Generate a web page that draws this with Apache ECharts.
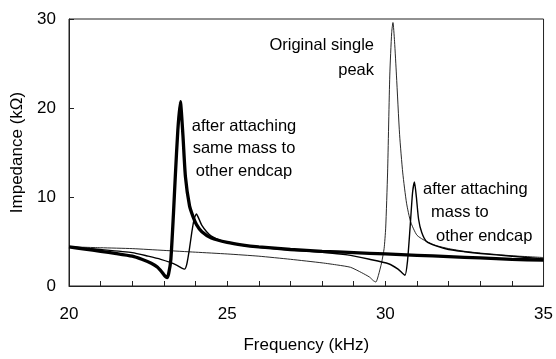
<!DOCTYPE html>
<html>
<head>
<meta charset="utf-8">
<script src="https://cdn.jsdelivr.net/npm/echarts@6/dist/echarts.min.js"></script>
<style>
  html, body { margin: 0; padding: 0; background: #fff; }
  #chart { width: 556px; height: 359px; }
</style>
</head>
<body>
<div id="chart"></div>
<script>
// Impedance spectra of the resonator (frequency in kHz, impedance in kΩ)

// Original single resonance peak
const origFreq = [20, 21, 22, 23, 24, 25, 26, 27, 28, 28.5, 28.9, 29.25, 29.5, 29.62, 29.7, 29.78, 29.88, 29.96, 30.01, 30.07, 30.14, 30.2, 30.24, 30.29, 30.35, 30.45, 30.55, 30.67, 30.8, 31, 31.3, 31.6, 32, 32.5, 33, 34, 35];
const origZ    = [4.4, 4.3, 4.2, 4.0, 3.8, 3.6, 3.35, 3.0, 2.6, 2.35, 2.1, 1.5, 1.0, 0.6, 0.45, 1.2, 2.6, 4.2, 6.5, 12.7, 23.7, 28.5, 29.6, 27.5, 23.7, 17, 12.7, 9.3, 7.2, 5.7, 5.0, 4.55, 4.2, 3.9, 3.7, 3.4, 3.2];

// Mass attached to one endcap: split into two peaks
const oneFreq = [20, 21, 22, 22.5, 22.9, 23.2, 23.4, 23.55, 23.65, 23.72, 23.8, 23.88, 23.96, 24.03, 24.1, 24.2, 24.35, 24.5, 24.8, 25.2, 26, 27, 28, 28.8, 29.5, 30.1, 30.4, 30.55, 30.62, 30.7, 30.78, 30.86, 30.92, 30.98, 31.05, 31.15, 31.3, 31.6, 32, 32.5, 33, 34, 35];
const oneZ    = [4.4, 4.1, 3.75, 3.35, 3.0, 2.65, 2.35, 2.05, 1.9, 2.4, 4.0, 6.0, 7.6, 8.1, 7.6, 6.8, 6.1, 5.6, 5.1, 4.75, 4.35, 4.05, 3.8, 3.5, 3.0, 2.5, 1.9, 1.4, 1.2, 2.8, 6.5, 10.5, 11.7, 10, 7.5, 6.0, 5.0, 4.5, 4.1, 3.85, 3.65, 3.35, 3.05];

// Same mass attached to both endcaps: single shifted peak
const bothFreq = [20, 20.5, 21, 21.5, 22, 22.3, 22.6, 22.8, 22.95, 23.05, 23.1, 23.15, 23.22, 23.3, 23.36, 23.44, 23.52, 23.6, 23.68, 23.81, 23.92, 24.03, 24.2, 24.5, 25, 25.5, 26, 27, 28, 29, 30, 31, 32, 33, 34, 35];
const bothZ    = [4.4, 4.15, 3.9, 3.65, 3.35, 3.0, 2.55, 2.1, 1.5, 1.05, 0.95, 1.4, 3.0, 8.0, 12.3, 17.5, 20.7, 17, 12.3, 9.0, 7.8, 6.9, 6.1, 5.4, 4.9, 4.6, 4.4, 4.1, 3.9, 3.75, 3.6, 3.45, 3.3, 3.15, 3.0, 2.9];

const xTicks = [20, 25, 30, 35];
const yTicks = [0, 10, 20, 30];

const FONT = '"Liberation Sans", Arial, sans-serif';

function pairs(xs, ys) { return xs.map((x, i) => [x, ys[i]]); }

function label(text, x, y, align) {
  return {
    type: 'text', x: x, y: y, silent: true,
    style: {
      text: text, fill: '#000', font: '16.5px ' + FONT,
      align: align, verticalAlign: 'middle',
      textAlign: align, textVerticalAlign: 'middle'
    }
  };
}

const chart = echarts.init(document.getElementById('chart'), null, { renderer: 'canvas' });

chart.setOption({
  animation: false,
  backgroundColor: '#fff',
  grid: {
    left: 69, right: 9, top: 19, bottom: 67,
    show: true, borderColor: '#222', borderWidth: 1, backgroundColor: 'transparent'
  },
  xAxis: {
    type: 'value', min: xTicks[0], max: xTicks[xTicks.length - 1], interval: 5,
    name: 'Frequency (kHz)', nameLocation: 'middle', nameGap: 51,
    nameTextStyle: { fontFamily: FONT, fontSize: 17, color: '#000' },
    axisLine: { show: true, lineStyle: { color: '#222', width: 1 } },
    axisTick: { show: true, inside: true, length: 5, lineStyle: { color: '#222' } },
    minorTick: { show: true, splitNumber: 5, length: 5, lineStyle: { color: '#222' } },
    axisLabel: { fontFamily: FONT, fontSize: 17, color: '#000', margin: 20 },
    splitLine: { show: false }
  },
  yAxis: {
    type: 'value', min: yTicks[0], max: yTicks[yTicks.length - 1], interval: 10,
    name: 'Impedance (kΩ)', nameLocation: 'middle', nameGap: 40, nameRotate: 90,
    nameTextStyle: { fontFamily: FONT, fontSize: 17, color: '#000' },
    axisLine: { show: true, lineStyle: { color: '#222', width: 1 } },
    axisTick: { show: true, inside: true, length: 5, lineStyle: { color: '#222' } },
    axisLabel: { fontFamily: FONT, fontSize: 17, color: '#000', margin: 13 },
    splitLine: { show: false }
  },
  series: [
    {
      name: 'Original', type: 'line', data: pairs(origFreq, origZ),
      showSymbol: false, smooth: 0.2, z: 3,
      lineStyle: { color: '#111', width: 0.9 }
    },
    {
      name: 'One endcap', type: 'line', data: pairs(oneFreq, oneZ),
      showSymbol: false, smooth: 0.2, z: 4,
      lineStyle: { color: '#000', width: 1.4 }
    },
    {
      name: 'Both endcaps', type: 'line', data: pairs(bothFreq, bothZ),
      showSymbol: false, smooth: 0.2, z: 5,
      lineStyle: { color: '#000', width: 3.3 }
    }
  ],
  graphic: [
    label('Original single', 374, 45, 'right'),
    label('peak', 374, 70, 'right'),
    label('after attaching', 244, 126, 'center'),
    label('same mass to', 244, 148, 'center'),
    label('other endcap', 244, 171, 'center'),
    label('after attaching', 423, 189, 'left'),
    label('mass to', 431, 212, 'left'),
    label('other endcap', 436, 236, 'left')
  ]
});
</script>
</body>
</html>
